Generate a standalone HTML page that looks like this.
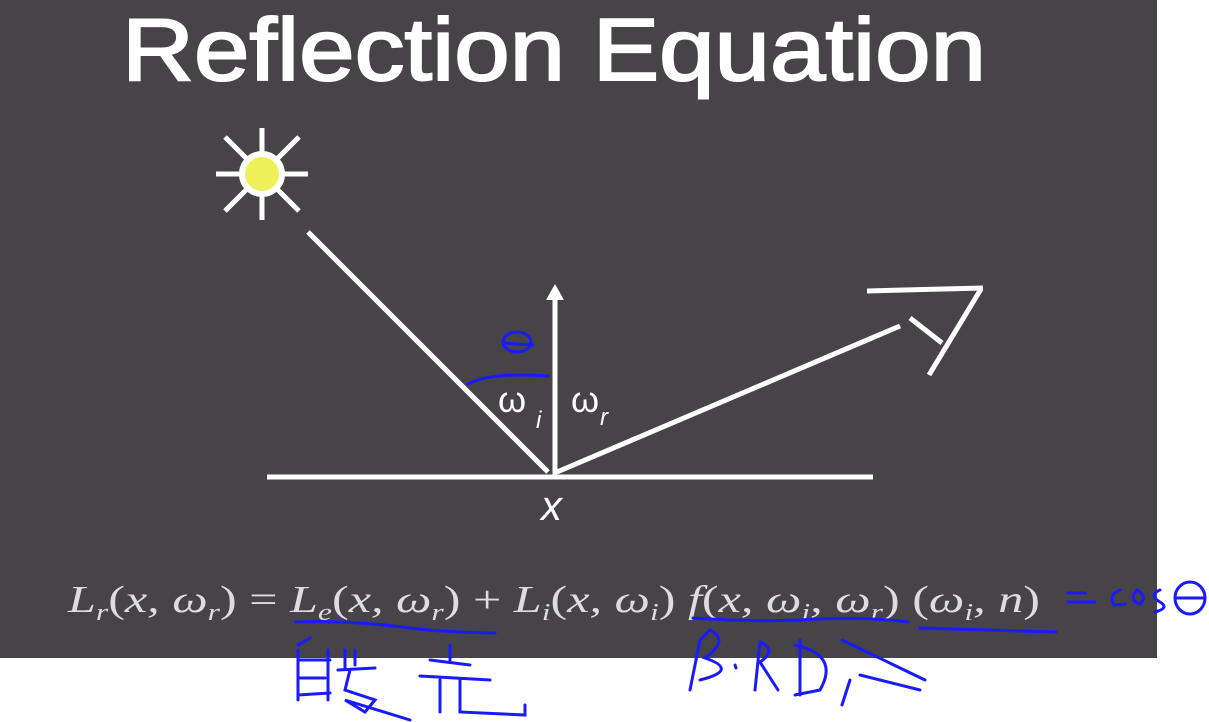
<!DOCTYPE html>
<html><head><meta charset="utf-8"><style>
html,body{margin:0;padding:0;background:#fff;width:1209px;height:722px;overflow:hidden}
svg{display:block}
</style></head><body>
<svg width="1209" height="722" viewBox="0 0 1209 722">
<rect x="0" y="0" width="1157" height="658" fill="#464447"/>
<text x="122" y="80" fill="#fff" stroke="#fff" stroke-width="2" font-family="Liberation Sans, sans-serif" font-size="88" textLength="864" lengthAdjust="spacingAndGlyphs">Reflection Equation</text>
<g stroke="#fff" stroke-width="5">
<line x1="262" y1="128" x2="262" y2="220"/><line x1="216" y1="174" x2="308" y2="174"/>
<line x1="225" y1="137" x2="299" y2="211"/><line x1="299" y1="137" x2="225" y2="211"/>
<circle cx="262" cy="174" r="20" fill="#eef05a" stroke="#fff" stroke-width="6"/>
</g>
<g stroke="#fff" stroke-width="5" fill="none">
<line x1="308" y1="232" x2="548" y2="472"/>
<line x1="267" y1="477" x2="873" y2="477"/>
<line x1="555" y1="476" x2="555" y2="298"/>
<line x1="557" y1="472" x2="900" y2="326"/>
<g>
<line x1="867" y1="291" x2="983" y2="288"/><line x1="981" y1="289" x2="929" y2="375"/><line x1="910" y1="318" x2="942" y2="343"/>
</g>
</g>
<polygon points="555,284 546,300 564,300" fill="#fff"/>
<g fill="#fff" font-family="Liberation Sans, sans-serif">
<text x="498" y="412" font-size="36">ω</text>
<text x="536" y="428" font-size="24" font-style="italic">i</text>
<text x="571" y="412" font-size="36">ω</text>
<text x="600" y="425" font-size="24" font-style="italic">r</text>
<text x="541" y="520" font-size="42" font-style="italic">x</text>
</g>
<text x="68" y="612" fill="#ddd" font-family="Liberation Serif, serif" font-size="38" font-style="italic" textLength="972" lengthAdjust="spacingAndGlyphs">L<tspan font-size="24" dy="8">r</tspan><tspan dy="-8" font-style="normal">(</tspan>x, ω<tspan font-size="24" dy="8">r</tspan><tspan dy="-8" font-style="normal">) = </tspan>L<tspan font-size="24" dy="8">e</tspan><tspan dy="-8" font-style="normal">(</tspan>x, ω<tspan font-size="24" dy="8">r</tspan><tspan dy="-8" font-style="normal">) + </tspan>L<tspan font-size="24" dy="8">i</tspan><tspan dy="-8" font-style="normal">(</tspan>x, ω<tspan font-size="24" dy="8">i</tspan><tspan dy="-8" font-style="normal">) </tspan>f<tspan font-style="normal">(</tspan>x, ω<tspan font-size="24" dy="8">i</tspan><tspan dy="-8">, ω</tspan><tspan font-size="24" dy="8">r</tspan><tspan dy="-8" font-style="normal">) (</tspan>ω<tspan font-size="24" dy="8">i</tspan><tspan dy="-8">, n</tspan><tspan font-style="normal">)</tspan></text>
<g stroke="#1a1aff" stroke-width="3" fill="none" stroke-linecap="round">
<path d="M468,384 Q490,372 548,376"/>
<ellipse cx="517" cy="342" rx="14" ry="10"/><line x1="503" y1="343" x2="533" y2="345"/>
<path d="M296,622 Q350,620 410,628 Q440,632 495,633"/>
<path d="M693,618 Q750,622 800,620 Q860,616 908,622"/>
<path d="M920,628 Q990,630 1056,632"/>
<g>
<path d="M298,645 L310,638 M298,650 L298,700 M298,660 L330,660 M298,678 L325,678 M298,695 L330,693 M328,650 L328,700"/>
<path d="M345,650 L345,668 M355,650 L355,665 M338,670 L375,668 M350,670 L345,690 L375,700 L365,712 L345,700 L410,720"/>
<path d="M450,645 L450,660 M430,660 L470,665 M420,676 L490,680 M440,680 L440,712 M460,680 L460,712 L525,715 L525,705"/>
</g>
<g>
<path d="M700,640 L710,630 Q730,640 705,658 Q740,670 700,680 M700,640 L690,690"/>
<path d="M735,665 L736,668 M760,642 Q778,650 760,662 L778,690 M760,642 L755,690"/>
<path d="M800,640 L800,695 M795,645 Q840,655 820,690 L795,695"/>
<path d="M842,640 L925,680 M860,675 L920,690 M850,680 L842,705"/>
</g>
<g>
<path d="M1068,593 L1085,593 M1068,602 L1095,602"/>
<path d="M1120,590 Q1108,595 1114,605 L1125,604 M1137,590 Q1128,600 1140,604 Q1148,596 1137,590 M1160,590 Q1148,595 1160,602 Q1170,608 1155,612"/>
<ellipse cx="1190" cy="598" rx="15" ry="16"/><line x1="1176" y1="598" x2="1205" y2="598"/>
</g>
</g>
</svg>
</body></html>
